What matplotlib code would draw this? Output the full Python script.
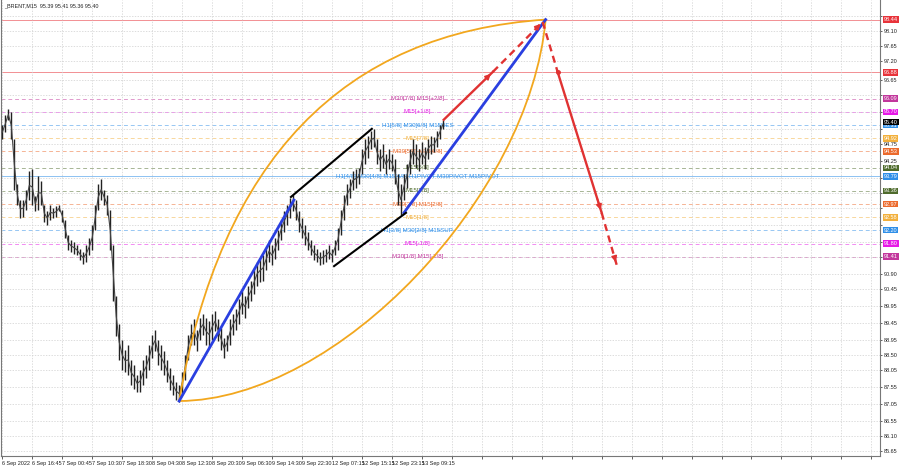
import matplotlib
matplotlib.use('Agg')
import matplotlib.pyplot as plt
import matplotlib.transforms as mtransforms
from matplotlib import font_manager
from matplotlib.path import Path
from matplotlib.patches import PathPatch

installed = {f.name for f in font_manager.fontManager.ttflist}
narrow = 'Liberation Sans Narrow' if 'Liberation Sans Narrow' in installed else 'Liberation Sans'
plt.rcParams['font.family'] = [narrow, 'DejaVu Sans']

# BRENT M15 bars (one entry per plotted bar)
bar_high = [95.3, 95.6, 95.8, 95.7, 94.9, 93.55, 93.1, 93.1, 93.4, 93.95,
            94.0, 93.2, 93.8, 93.65, 92.95, 92.75, 92.95, 92.85, 92.9, 92.95,
            92.8, 92.5, 92.05, 91.9, 91.85, 91.75, 91.65, 91.55, 91.75, 91.95,
            92.35, 92.95, 93.55, 93.7, 93.4, 93.25, 92.8, 91.75, 90.25, 89.4,
            88.95, 88.65, 88.8, 88.35, 88.2, 87.9, 88.05, 88.35, 88.5, 88.8,
            89.1, 89.25, 88.95, 88.8, 88.6, 88.35, 88.1, 87.9, 87.7, 87.6,
            88.0, 88.5, 89.1, 89.4, 89.55, 89.25, 89.6, 89.7, 89.6, 89.5,
            89.7, 89.8, 89.55, 89.3, 89.0, 89.1, 89.55, 89.7, 89.85, 90.15,
            90.4, 90.25, 90.55, 90.7, 91.0, 91.25, 91.35, 91.45, 91.65, 91.9,
            91.75, 91.95, 92.2, 92.5, 92.75, 92.95, 93.15, 93.25, 93.1, 92.75,
            92.55, 92.35, 92.15, 91.9, 91.75, 91.65, 91.55, 91.6, 91.65, 91.75,
            91.65, 91.9, 92.25, 92.8, 93.25, 93.55, 93.7, 93.95, 94.0, 94.05,
            94.6, 94.9, 95.0, 95.15, 95.2, 94.9, 94.6, 94.75, 94.45, 94.6,
            94.45, 94.3, 93.85, 93.55, 93.85, 94.15, 94.6, 94.9, 94.75, 94.6,
            94.8, 94.65, 94.9, 95.0, 94.95, 95.15, 95.3, 95.45]
bar_low = [94.9, 95.1, 95.45, 94.9, 93.4, 92.95, 92.55, 92.6, 92.8, 93.1,
           92.95, 92.75, 92.8, 92.95, 92.45, 92.35, 92.5, 92.55, 92.6, 92.75,
           92.45, 91.95, 91.6, 91.55, 91.5, 91.45, 91.3, 91.2, 91.25, 91.45,
           91.6, 92.2, 92.8, 93.1, 92.95, 92.65, 91.6, 90.1, 89.05, 88.35,
           88.05, 88.0, 87.9, 87.6, 87.5, 87.4, 87.4, 87.6, 87.8, 88.05,
           88.4, 88.6, 88.2, 88.05, 87.9, 87.7, 87.45, 87.3, 87.15, 87.1,
           87.3, 87.75, 88.35, 88.8, 88.8, 88.6, 88.95, 89.1, 88.8, 88.7,
           88.95, 89.2, 88.9, 88.65, 88.4, 88.6, 88.8, 89.1, 89.25, 89.4,
           89.7, 89.6, 89.9, 90.1, 90.3, 90.55, 90.65, 90.7, 91.0, 91.25,
           91.15, 91.35, 91.6, 91.9, 92.15, 92.35, 92.55, 92.75, 92.5, 92.15,
           91.95, 91.75, 91.6, 91.45, 91.3, 91.25, 91.15, 91.2, 91.25, 91.35,
           91.25, 91.45, 91.6, 92.05, 92.5, 92.95, 93.15, 93.4, 93.45, 93.55,
           93.85, 94.15, 94.35, 94.6, 94.65, 94.15, 93.95, 94.05, 93.85, 94.0,
           93.95, 93.55, 92.95, 92.65, 93.1, 93.45, 93.85, 94.15, 94.05, 93.95,
           94.15, 94.0, 94.3, 94.45, 94.5, 94.65, 94.9, 95.2]

time_labels = ['6 Sep 2022', '6 Sep 16:45', '7 Sep 00:45', '7 Sep 10:30', '7 Sep 18:30',
               '8 Sep 04:30', '8 Sep 12:30', '8 Sep 20:30', '9 Sep 06:30', '9 Sep 14:30',
               '9 Sep 22:30', '12 Sep 07:15', '12 Sep 15:15', '12 Sep 23:15', '13 Sep 09:15']

price_ticks = [98.55, 98.10, 97.65, 97.20, 96.65, 96.20, 95.70, 95.20, 94.75, 94.25,
               93.75, 93.30, 92.85, 92.35, 91.85, 91.40, 90.90, 90.45, 89.95, 89.45,
               88.95, 88.50, 88.05, 87.55, 87.05, 86.55, 86.10, 85.65]

# Murrey math levels
level_prices = [98.44, 96.88, 96.09, 95.70, 95.31, 94.92, 94.53, 94.04,
                93.79, 93.36, 92.97, 92.58, 92.20, 91.80, 91.41]
level_colors = ['#e8333a', '#e8333a', '#c2379c', '#e619e6', '#2f8fe8', '#f2b03c', '#ec6a2c', '#4f6b2c',
                '#2f8fe8', '#4f6b2c', '#ec6a2c', '#f2b03c', '#2f8fe8', '#e619e6', '#c2379c']
level_solid = [True, True, False, False, False, False, False, False,
               True, False, False, False, False, False, False]
level_notes = ['', '', 'M30[7/8] M15[+2/8]', 'M15[+1/8]', 'H1[5/8] M30[6/8] M15RES',
               'M15[7/8]', 'M30[5/8] M15[6/8]', 'M15[5/8]',
               'H1[4/8] M30[4/8] M15[4/8] H1PIVOT M30PIVOT M15PIVOT',
               'M15[3/8]', 'M30[3/8] M15[2/8]', 'M15[1/8]', 'H1[3/8] M30[2/8] M15SUP',
               'M15[-1/8]', 'M30[1/8] M15[-2/8]']
note_x = 138.5
current_price = 95.40
chart_title = '_BRENT,M15  95.39 95.41 95.36 95.40'

# drawing objects (bar index, price)
blue_lines = [[(59.0, 87.13), (97.3, 93.09)], [(134.0, 92.71), (181.3, 98.44)]]
black_lines = [[(96.3, 93.18), (123.3, 95.20)], [(110.7, 91.13), (134.7, 92.71)]]
arc_upper = [(59.0, 87.13), (79.7, 97.84), (181.3, 98.44)]
arc_lower = [(59.0, 87.13), (112.0, 87.16), (176.0, 93.20), (181.3, 98.44)]
red_path = [(147.3, 95.47), (163.7, 96.89), (180.3, 98.37), (185.3, 96.89), (200.0, 92.71), (205.0, 91.17)]
red_dashed = [False, True, True, False, True]
red_head = [True, True, False, True, True]

fig = plt.figure(figsize=(9, 4.68), dpi=100)
ax = fig.add_axes([0.0015, 12 / 468, 879 / 900, 456 / 468])
ax.set_xlim(-0.33, 293)
ax.set_ylim(85.50, 99.02)

box_prices = level_prices + [current_price]
box_colors = level_colors + ['black']

# grid; tick labels hidden under a price box are left out, as in the terminal
ax.set_xticks(range(0, 291, 10))
ax.set_xticklabels(time_labels + [''] * (30 - len(time_labels)), ha='left')
ax.set_yticks(price_ticks)
ax.set_yticklabels(['' if min(abs(v - b) for b in box_prices) < 0.16 else f'{v:.2f}'
                    for v in price_ticks])
ax.yaxis.set_ticks_position('right')
ax.grid(color='#cfcfcf', lw=0.5, ls=(0, (2, 2)), zorder=0)
ax.tick_params(axis='x', labelsize=4.0, length=2, pad=1.5, colors='#222', width=0.5)
ax.tick_params(axis='y', labelsize=4.0, length=1.5, pad=0.8, colors='#222', width=0.5)
for s in ['left', 'bottom', 'right']:
    ax.spines[s].set_color('#777')
    ax.spines[s].set_linewidth(0.8)
ax.spines['top'].set_visible(False)

# level lines
for p, c, solid in zip(level_prices, level_colors, level_solid):
    ax.axhline(p, color=c, lw=0.7, alpha=0.55 if solid else 0.5,
               ls='-' if solid else (0, (4, 3)), zorder=1)

# level notes
for p, c, t in zip(level_prices, level_colors, level_notes):
    if t:
        ax.text(note_x, p, t, color=c, fontsize=4.4, ha='center', va='center', zorder=2)

# price bars
xs = list(range(len(bar_high)))
mids = [(h + l) / 2 for h, l in zip(bar_high, bar_low)]
ax.vlines(xs, bar_low, bar_high, color='#222', lw=1.0, zorder=3)
ax.plot(xs, mids, color='#444', lw=0.8, zorder=3)

# orange arcs
ax.add_patch(PathPatch(Path(arc_upper, [Path.MOVETO, Path.CURVE3, Path.CURVE3]),
                       fc='none', ec='#f2a71e', lw=1.3, zorder=4))
ax.add_patch(PathPatch(Path(arc_lower, [Path.MOVETO, Path.CURVE4, Path.CURVE4, Path.CURVE4]),
                       fc='none', ec='#f2a71e', lw=1.3, zorder=4))

# channel and trend lines
for seg in blue_lines:
    ax.plot([seg[0][0], seg[1][0]], [seg[0][1], seg[1][1]], color='#2a3fe0', lw=2.0, zorder=5)
for seg in black_lines:
    ax.plot([seg[0][0], seg[1][0]], [seg[0][1], seg[1][1]], color='black', lw=1.5, zorder=5)

# red projection
for i in range(len(red_path) - 1):
    (x0, y0), (x1, y1) = red_path[i], red_path[i + 1]
    ax.plot([x0, x1], [y0, y1], color='#e03232', lw=1.7,
            ls=(0, (3, 2)) if red_dashed[i] else '-', zorder=6)
    if red_head[i]:
        ax.annotate('', xy=(x1, y1), xytext=(x1 - 0.12 * (x1 - x0), y1 - 0.12 * (y1 - y0)),
                    arrowprops=dict(arrowstyle='-|>', color='#e03232', lw=1.2, mutation_scale=8),
                    zorder=6)
ax.plot([red_path[3][0]], [red_path[3][1]], 'o', color='#e03232', ms=2.5, zorder=6)

# price boxes on the right axis
trans = mtransforms.blended_transform_factory(ax.transAxes, ax.transData)
for p, c in zip(box_prices, box_colors):
    ax.text(1.004, p, f'{p:.2f}', transform=trans, fontsize=4.0, color='white',
            ha='left', va='center', clip_on=False, zorder=10,
            bbox=dict(boxstyle='square,pad=0.15', fc=c, ec='none'))

ax.text(0.003, 0.993, chart_title, transform=ax.transAxes, fontsize=3.9,
        color='#222', ha='left', va='top')

fig.savefig('out.png', dpi=100, facecolor='white')
